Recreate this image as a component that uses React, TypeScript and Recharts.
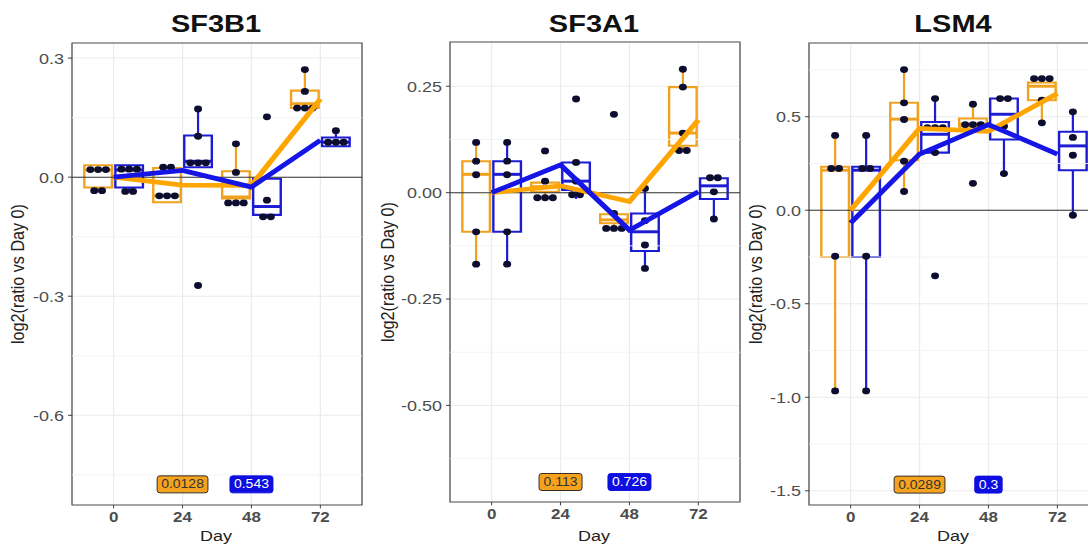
import React from 'react';
import {
  ComposedChart,
  XAxis,
  YAxis,
  CartesianGrid,
  ReferenceArea,
  ReferenceLine,
  Scatter,
} from 'recharts';

const days = [0, 24, 48, 72];

// box stats per day: [lower whisker, q1, median, q3, upper whisker]
const sf3b1OrangeBoxes = [
  [-0.034, -0.026, 0.018, 0.03, 0.03],
  [-0.063, -0.063, -0.047, 0.023, 0.025],
  [-0.065, -0.054, -0.05, 0.015, 0.084],
  [0.174, 0.174, 0.185, 0.218, 0.271],
];
const sf3b1BlueBoxes = [
  [-0.036, -0.026, 0.018, 0.03, 0.03],
  [0.025, 0.025, 0.04, 0.105, 0.172],
  [-0.1, -0.095, -0.074, -0.004, -0.004],
  [0.078, 0.078, 0.088, 0.1, 0.117],
];
const sf3b1OrangeDots = [
  [0.019, 0.019, 0.019, -0.034, -0.034],
  [0.025, 0.025, -0.047, -0.047, -0.047],
  [0.084, 0.012, -0.065, -0.065, -0.065],
  [0.271, 0.216, 0.174, 0.174, 0.174],
];
const sf3b1BlueDots = [
  [0.02, 0.02, 0.02, -0.036, -0.036],
  [0.172, 0.103, 0.036, 0.036, 0.036, -0.273],
  [0.152, -0.058, -0.1, -0.1],
  [0.117, 0.088, 0.088, 0.088],
];
const sf3b1OrangeMean = [0, -0.02, -0.021, 0.197];
const sf3b1BlueMean = [0, 0.017, -0.025, 0.093];
const sf3b1PValues = ['0.0128', '0.543'];

const sf3a1OrangeBoxes = [
  [-0.168, -0.092, 0.043, 0.074, 0.118],
  [-0.012, 0.002, 0.014, 0.0235, 0.027],
  [-0.084, -0.072, -0.064, -0.051, -0.049],
  [0.099, 0.11, 0.14, 0.248, 0.29],
];
const sf3a1BlueBoxes = [
  [-0.168, -0.092, 0.043, 0.074, 0.118],
  [-0.015, 0.006, 0.027, 0.071, 0.071],
  [-0.178, -0.137, -0.092, -0.049, 0.01],
  [-0.062, -0.015, 0.016, 0.034, 0.035],
];
const sf3a1OrangeDots = [
  [0.118, 0.074, 0.042, -0.092, -0.168],
  [0.098, 0.027, -0.012, -0.012, -0.012],
  [0.184, -0.049, -0.084, -0.084, -0.084],
  [0.29, 0.248, 0.14, 0.099, 0.099],
];
const sf3a1BlueDots = [
  [0.118, 0.074, 0.042, -0.092, -0.168],
  [0.22, 0.071, 0.027, -0.005, -0.005],
  [0.01, -0.066, -0.123, -0.178],
  [0.035, 0.035, 0.002, -0.062],
];
const sf3a1OrangeMean = [0, 0.016, -0.021, 0.171];
const sf3a1BlueMean = [0, 0.065, -0.088, 0.002];
const sf3a1PValues = ['0.113', '0.726'];

const lsm4OrangeBoxes = [
  [-0.966, -0.25, 0.214, 0.232, 0.4],
  [0.1, 0.267, 0.487, 0.574, 0.752],
  [0.446, 0.446, 0.46, 0.49, 0.567],
  [0.467, 0.588, 0.663, 0.683, 0.704],
];
const lsm4BlueBoxes = [
  [-0.966, -0.25, 0.214, 0.232, 0.4],
  [0.308, 0.308, 0.406, 0.472, 0.597],
  [0.196, 0.378, 0.513, 0.597, 0.597],
  [-0.027, 0.214, 0.344, 0.419, 0.526],
];
const lsm4OrangeDots = [
  [0.4, 0.223, 0.223, -0.246, -0.966],
  [0.752, 0.574, 0.485, 0.262, 0.1],
  [0.567, 0.458, 0.458, 0.458, 0.144],
  [0.704, 0.704, 0.704, 0.588, 0.467],
];
const lsm4BlueDots = [
  [0.4, 0.223, 0.223, -0.246, -0.966],
  [0.597, 0.442, 0.442, 0.442, 0.308, -0.351],
  [0.597, 0.597, 0.449, 0.196],
  [0.526, 0.389, 0.294, -0.027],
];
const lsm4OrangeMean = [0, 0.437, 0.422, 0.624];
const lsm4BlueMean = [-0.068, 0.3, 0.458, 0.3];
const lsm4PValues = ['0.0289', '0.3'];

const ORANGE_BOX = '#F0A21E';
const ORANGE_LINE = '#FFA500';
const BLUE_BOX = '#1C1CD2';
const BLUE_LINE = '#1515E6';
const DOT = '#0d0d30';

// the reference is squashed vertically, so draw taller and scale down
const K = 0.85;
const H = 644;
const PLOT_W = 290;
const X_DOMAIN = [-14.5, 86.5];
const DODGE = 5.4;
const HALF = 4.8;
const DOT_STEP = 2.7;

const panels = [
  {
    title: 'SF3B1', left: 0, yAxisW: 72, top: 43 / K, bottom: 505 / K,
    yDomain: [-0.826, 0.338], yTicks: [-0.6, -0.3, 0, 0.3], digits: 1, pY: -0.774, yLabelX: 17.5,
    orangeBoxes: sf3b1OrangeBoxes, blueBoxes: sf3b1BlueBoxes,
    orangeDots: sf3b1OrangeDots, blueDots: sf3b1BlueDots,
    orangeMean: sf3b1OrangeMean, blueMean: sf3b1BlueMean, pValues: sf3b1PValues,
  },
  {
    title: 'SF3A1', left: 370, yAxisW: 80, top: 42 / K, bottom: 502 / K,
    yDomain: [-0.727, 0.354], yTicks: [-0.5, -0.25, 0, 0.25], digits: 2, pY: -0.68, yLabelX: 388,
    orangeBoxes: sf3a1OrangeBoxes, blueBoxes: sf3a1BlueBoxes,
    orangeDots: sf3a1OrangeDots, blueDots: sf3a1BlueDots,
    orangeMean: sf3a1OrangeMean, blueMean: sf3a1BlueMean, pValues: sf3a1PValues,
  },
  {
    title: 'LSM4', left: 740, yAxisW: 69, top: 43 / K, bottom: 505 / K,
    yDomain: [-1.576, 0.894], yTicks: [-1.5, -1, -0.5, 0, 0.5], digits: 1, pY: -1.467, yLabelX: 756,
    orangeBoxes: lsm4OrangeBoxes, blueBoxes: lsm4BlueBoxes,
    orangeDots: lsm4OrangeDots, blueDots: lsm4BlueDots,
    orangeMean: lsm4OrangeMean, blueMean: lsm4BlueMean, pValues: lsm4PValues,
  },
];

function stackDots(values: number[], cx: number) {
  const out: { x: number; y: number }[] = [];
  const groups = new Map<number, number>();
  values.forEach((v) => groups.set(v, (groups.get(v) || 0) + 1));
  groups.forEach((n, v) => {
    for (let i = 0; i < n; i++) out.push({ x: cx + (i - (n - 1) / 2) * DOT_STEP, y: v });
  });
  return out;
}

const renderDot = (props: any) => <circle cx={props.cx} cy={props.cy} r={4} fill={DOT} />;

const renderPLabel = (props: any) => {
  const { cx, cy, payload } = props;
  const txt: string = payload.label;
  const digits = txt.replace('.', '').length;
  const w = (digits * 0.556 + 0.278) * 14 + 8;
  const h = 20;
  const orange = payload.group === 0;
  return (
    <g>
      <rect
        x={cx - w / 2}
        y={cy - h / 2}
        width={w}
        height={h}
        rx={3}
        fill={orange ? '#F5A31F' : '#0E0EE0'}
        stroke={orange ? '#222' : '#0E0EE0'}
        strokeWidth={1}
      />
      <text x={cx} y={cy} textAnchor="middle" dominantBaseline="central" fontSize={14} fill={orange ? '#333' : '#fff'}>
        {txt}
      </text>
    </g>
  );
};

function Panel({ p }: { p: any }) {
  const width = p.yAxisW + PLOT_W + 10;
  const step = p.yTicks[1] - p.yTicks[0];
  const minor = [p.yTicks[0] - step / 2, ...p.yTicks.map((t: number) => t + step / 2)].filter(
    (v: number) => v > p.yDomain[0] && v < p.yDomain[1]
  );
  const boxes = days.flatMap((d, i) => [
    { cx: d - DODGE, s: p.orangeBoxes[i], color: ORANGE_BOX, dots: p.orangeDots[i] },
    { cx: d + DODGE, s: p.blueBoxes[i], color: BLUE_BOX, dots: p.blueDots[i] },
  ]);
  const dots = boxes.flatMap((b) => stackDots(b.dots, b.cx));
  const orangeMean = days.map((d, i) => ({ x: d, y: p.orangeMean[i] }));
  const blueMean = days.map((d, i) => ({ x: d, y: p.blueMean[i] }));
  const pLabels = p.pValues.map((label: string, i: number) => ({ x: days[i + 1], y: p.pY, label, group: i }));

  return (
    <div style={{ position: 'absolute', left: p.left, top: 0 }}>
      <ComposedChart width={width} height={H} margin={{ top: p.top, right: 10, bottom: 0, left: 0 }}>
        <CartesianGrid stroke="#ebebeb" strokeWidth={1.2} />
        {minor.map((v: number) => (
          <ReferenceLine key={'m' + v} y={v} stroke="#f3f3f3" strokeWidth={1} />
        ))}
        <XAxis
          type="number"
          dataKey="x"
          domain={X_DOMAIN}
          ticks={days}
          interval={0}
          allowDataOverflow
          height={H - p.bottom}
          axisLine={false}
          stroke="#333"
          tickSize={4}
          tickMargin={4}
          tick={{ fontSize: 17, fill: '#4d4d4d', fontWeight: 'bold' }}
        />
        <YAxis
          type="number"
          dataKey="y"
          domain={p.yDomain}
          ticks={p.yTicks}
          interval={0}
          allowDataOverflow
          width={p.yAxisW}
          axisLine={false}
          stroke="#333"
          tickSize={4}
          tickMargin={4}
          tick={{ fontSize: 18, fill: '#4d4d4d' }}
          tickFormatter={(v: number) => v.toFixed(p.digits)}
        />
        <ReferenceArea
          x1={X_DOMAIN[0]}
          x2={X_DOMAIN[1]}
          y1={p.yDomain[0]}
          y2={p.yDomain[1]}
          fill="none"
          stroke="#555"
          strokeWidth={1.3}
        />
        {boxes.map((b, i) => (
          <ReferenceArea
            key={'b' + i}
            x1={b.cx - HALF}
            x2={b.cx + HALF}
            y1={b.s[1]}
            y2={b.s[3]}
            fill="#fff"
            fillOpacity={1}
            stroke={b.color}
            strokeWidth={2.4}
          />
        ))}
        {boxes.map((b, i) =>
          b.s[4] > b.s[3] ? (
            <ReferenceLine key={'wu' + i} segment={[{ x: b.cx, y: b.s[3] }, { x: b.cx, y: b.s[4] }]} stroke={b.color} strokeWidth={2.2} />
          ) : null
        )}
        {boxes.map((b, i) =>
          b.s[0] < b.s[1] ? (
            <ReferenceLine key={'wl' + i} segment={[{ x: b.cx, y: b.s[1] }, { x: b.cx, y: b.s[0] }]} stroke={b.color} strokeWidth={2.2} />
          ) : null
        )}
        {boxes.map((b, i) => (
          <ReferenceLine
            key={'md' + i}
            segment={[{ x: b.cx - HALF, y: b.s[2] }, { x: b.cx + HALF, y: b.s[2] }]}
            stroke={b.color}
            strokeWidth={3.5}
          />
        ))}
        <ReferenceLine y={0} stroke="#333" strokeWidth={1.2} />
        <Scatter data={dots} shape={renderDot} isAnimationActive={false} />
        <Scatter
          data={orangeMean}
          line={{ stroke: ORANGE_LINE, strokeWidth: 5.5 }}
          shape={() => <g />}
          isAnimationActive={false}
        />
        <Scatter
          data={blueMean}
          line={{ stroke: BLUE_LINE, strokeWidth: 5.5 }}
          shape={() => <g />}
          isAnimationActive={false}
        />
        <Scatter data={pLabels} shape={renderPLabel} isAnimationActive={false} />
      </ComposedChart>
    </div>
  );
}

export default function App() {
  return (
    <div
      style={{
        position: 'absolute',
        left: 0,
        top: 0,
        width: 1088,
        height: 547,
        overflow: 'hidden',
        background: '#fff',
        fontFamily: '"Liberation Sans", Arial, sans-serif',
      }}
    >
      <div style={{ position: 'relative', width: 1110, height: H, transform: `scaleY(${K})`, transformOrigin: '0 0' }}>
        {panels.map((p) => (
          <Panel key={p.title} p={p} />
        ))}
        <svg width={1110} height={H} style={{ position: 'absolute', left: 0, top: 0, pointerEvents: 'none' }}>
          {panels.map((p) => {
            const cx = p.left + p.yAxisW + PLOT_W / 2 - 1;
            const cy = (p.top + p.bottom) / 2;
            return (
              <g key={p.title}>
                <text x={cx} y={32 / K} textAnchor="middle" fontSize={29} fontWeight="bold" fill="#111">
                  {p.title}
                </text>
                <text x={cx} y={541.5 / K} textAnchor="middle" fontSize={18} fill="#222">
                  Day
                </text>
                <text
                  transform={`translate(${p.yLabelX}, ${cy}) rotate(-90)`}
                  textAnchor="middle"
                  dominantBaseline="central"
                  fontSize={19}
                  fill="#222"
                >
                  log2(ratio vs Day 0)
                </text>
              </g>
            );
          })}
        </svg>
      </div>
    </div>
  );
}
